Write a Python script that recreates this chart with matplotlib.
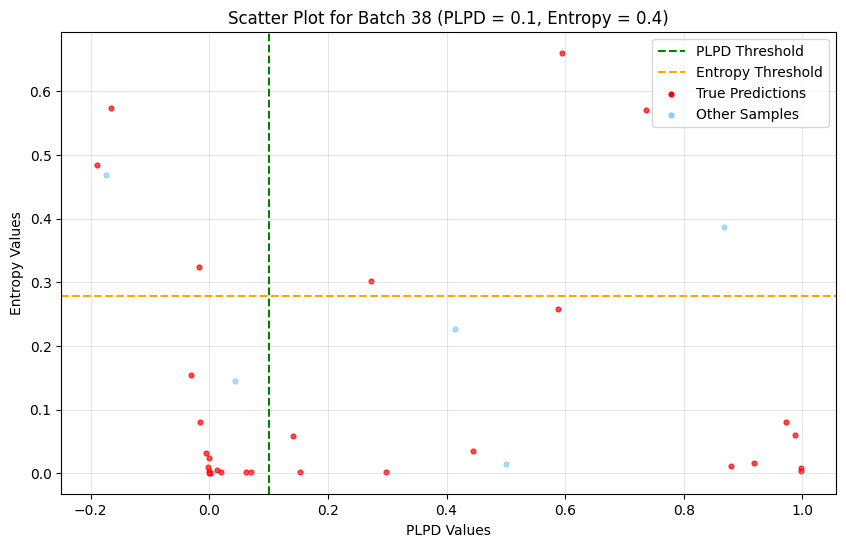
import matplotlib
matplotlib.use("Agg")
import matplotlib.pyplot as plt

# batch 38 samples
true_plpd = [-0.190, -0.165, -0.0175, -0.0305, -0.016, -0.006, -0.001, -0.002,
             0.0, 0.001, -0.001, 0.013, 0.019, 0.062, 0.071, 0.141, 0.153,
             0.2735, 0.298, 0.4446, 0.588, 0.5954, 0.7363, 0.879, 0.919,
             0.973, 0.987, 0.997, 0.997]
true_entropy = [0.485, 0.5735, 0.3234, 0.1538, 0.081, 0.032, 0.024, 0.010,
                0.003, 0.001, 0.0, 0.005, 0.0016, 0.002, 0.0025, 0.0585, 0.0016,
                0.302, 0.0016, 0.035, 0.258, 0.660, 0.5714, 0.011, 0.016,
                0.0805, 0.0606, 0.0078, 0.003]

other_plpd = [-0.174, 0.043, 0.005, 0.4148, 0.4995, 0.8676]
other_entropy = [0.469, 0.145, 0.0, 0.226, 0.015, 0.387]

plpd_threshold = 0.1
entropy_threshold = 0.279

fig, ax = plt.subplots(figsize=(8.46, 5.47), dpi=100)
fig.subplots_adjust(left=0.0725, right=0.988, bottom=0.0963, top=0.941)

other = ax.scatter(other_plpd, other_entropy, color="lightskyblue", s=12, alpha=0.7,
                   label="Other Samples")
true = ax.scatter(true_plpd, true_entropy, color="red", s=12, alpha=0.7,
                  label="True Predictions")
plpd_line = ax.axvline(plpd_threshold, color="green", linestyle="--", label="PLPD Threshold")
ent_line = ax.axhline(entropy_threshold, color="orange", linestyle="--", label="Entropy Threshold")

ax.set_title("Scatter Plot for Batch 38 (PLPD = 0.1, Entropy = 0.4)")
ax.set_xlabel("PLPD Values")
ax.set_ylabel("Entropy Values")
ax.grid(True, alpha=0.3)
leg = ax.legend(handles=[plpd_line, ent_line, true, other], loc="upper right")
for h in leg.legend_handles:
    h.set_alpha(1)

plt.savefig("out.png", dpi=100)
